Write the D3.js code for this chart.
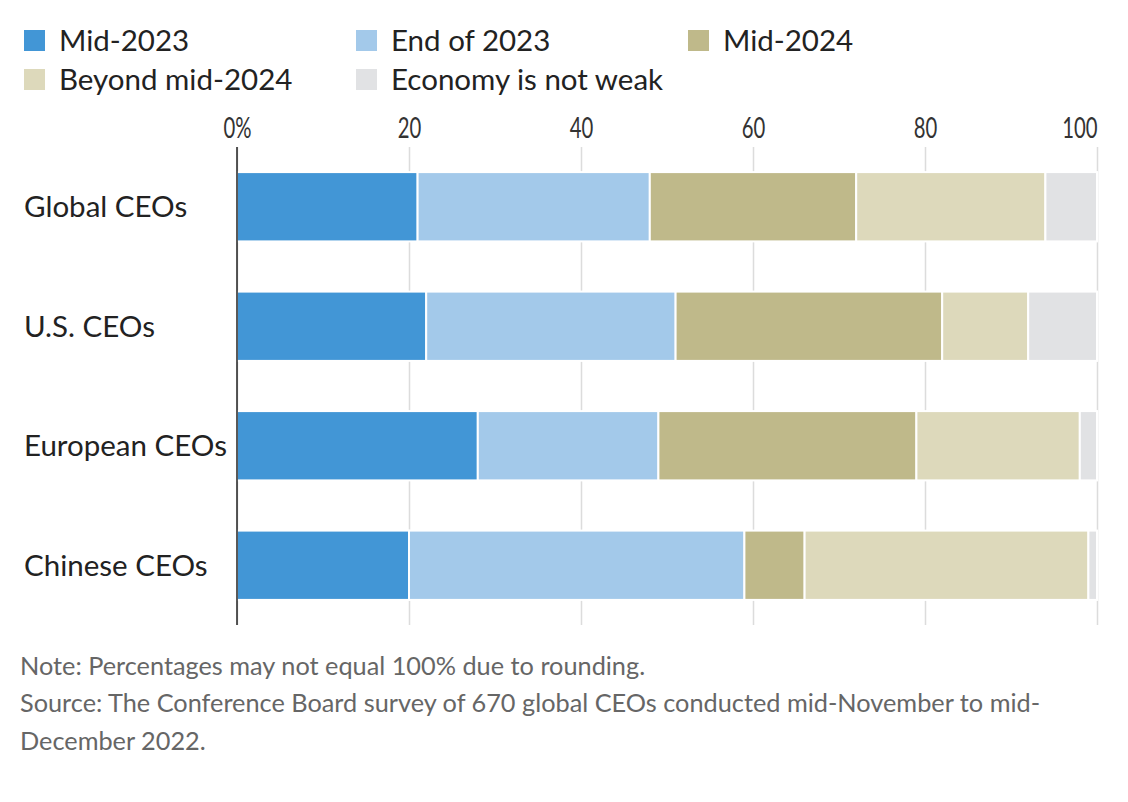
<!DOCTYPE html>
<html>
<head>
  <meta charset="utf-8">
  <script src="https://d3js.org/d3.v7.min.js"></script>
  <style>
    body { margin: 0; background: #fff; }
    svg text { font-family: Lato, "Noto Sans", sans-serif; }
  </style>
</head>
<body>
<svg width="1128" height="802"></svg>
<script>
  // data
  var categories = ["Global CEOs", "U.S. CEOs", "European CEOs", "Chinese CEOs"];
  var seriesNames = ["Mid-2023", "End of 2023", "Mid-2024", "Beyond mid-2024", "Economy is not weak"];
  var mid2023   = [21, 22, 28, 20];
  var end2023   = [27, 29, 21, 39];
  var mid2024   = [24, 31, 30, 7];
  var beyond    = [22, 10, 19, 33];
  var notWeak   = [6, 8, 2, 1];
  var tickValues = [0, 20, 40, 60, 80, 100];
  var colors = ["#4296d6", "#a3c9ea", "#bfb98a", "#ddd9bb", "#e1e2e4"];

  var svg = d3.select("svg");
  var margin = { left: 237, right: 31, top: 147, bottom: 177 };
  var width = 1128 - margin.left - margin.right,
      height = 802 - margin.top - margin.bottom;

  var rows = categories.map(function(c, i) {
    return { cat: c, "Mid-2023": mid2023[i], "End of 2023": end2023[i], "Mid-2024": mid2024[i],
             "Beyond mid-2024": beyond[i], "Economy is not weak": notWeak[i] };
  });

  var x = d3.scaleLinear().domain([0, 100]).range([0, width]);
  var y = d3.scaleBand().domain(categories).range([0, height]).paddingInner(0.42).paddingOuter(0.21);
  var color = d3.scaleOrdinal().domain(seriesNames).range(colors);

  var g = svg.append("g").attr("transform", "translate(" + margin.left + "," + margin.top + ")");

  // gridlines + tick labels (squeezed to mimic the narrow face)
  var xAxis = g.append("g")
    .call(d3.axisTop(x).tickValues(tickValues).tickSize(-height)
      .tickFormat(function(d) { return d === 0 ? "0%" : d; }));
  xAxis.select(".domain").remove();
  xAxis.selectAll(".tick line").attr("stroke", "#dcdcdc").attr("stroke-width", 1.5);
  xAxis.selectAll(".tick text")
    .attr("fill", "#333")
    .attr("font-family", "Lato, sans-serif")
    .attr("font-size", 29)
    .attr("y", -9)
    .attr("dy", 0)
    .attr("transform", "scale(0.7,1)")
    .attr("text-anchor", function(d) { return d === 100 ? "end" : "middle"; });

  var stack = d3.stack().keys(seriesNames);
  g.selectAll(".layer")
    .data(stack(rows))
    .enter().append("g")
      .attr("fill", function(d) { return color(d.key); })
    .selectAll("rect")
    .data(function(d) { return d; })
    .enter().append("rect")
      .attr("x", function(d) { return x(d[0]); })
      .attr("width", function(d) { return x(d[1]) - x(d[0]); })
      .attr("y", function(d) { return y(d.data.cat); })
      .attr("height", y.bandwidth())
      .attr("stroke", "#fff")
      .attr("stroke-width", 2);

  // zero line
  g.append("line").attr("x1", x(0)).attr("x2", x(0)).attr("y1", 0).attr("y2", height)
    .attr("stroke", "#222").attr("stroke-width", 1.5);

  // category labels
  g.selectAll(".cat")
    .data(categories)
    .enter().append("text")
      .attr("x", 24 - margin.left)
      .attr("y", function(d) { return y(d) + y.bandwidth() / 2; })
      .attr("dy", "0.35em")
      .attr("fill", "#222")
      .style("font-size", "29.5px")
      .text(function(d) { return d; });

  // legend
  var legend = svg.append("g").selectAll("g")
    .data(seriesNames)
    .enter().append("g")
      .attr("transform", function(d, i) { return "translate(" + (24 + (i % 3) * 332) + "," + (30 + Math.floor(i / 3) * 39) + ")"; });
  legend.append("rect").attr("width", 21).attr("height", 21).attr("fill", function(d) { return color(d); });
  legend.append("text").attr("x", 35).attr("y", 10.5).attr("dy", "0.36em")
    .attr("fill", "#222").style("font-size", "29.5px").text(function(d) { return d; });

  // notes
  var notes = ["Note: Percentages may not equal 100% due to rounding.",
    "Source: The Conference Board survey of 670 global CEOs conducted mid-November to mid-",
    "December 2022."];
  svg.append("g").selectAll("text")
    .data(notes)
    .enter().append("text")
      .attr("x", 20)
      .attr("y", function(d, i) { return 666 + i * 37.5; })
      .attr("dy", "0.35em")
      .attr("fill", "#666")
      .style("font-size", "25.3px")
      .text(function(d) { return d; });
</script>
</body>
</html>
